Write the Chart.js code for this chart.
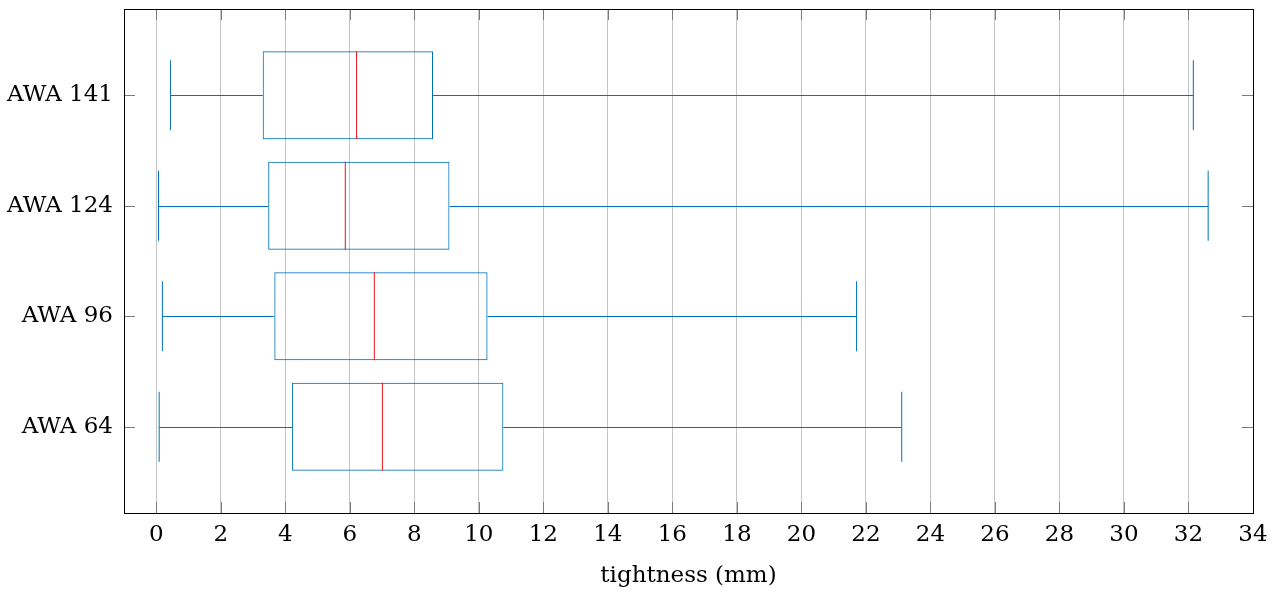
<!DOCTYPE html>
<html>
<head>
<meta charset="utf-8">
<script src="https://cdn.jsdelivr.net/npm/chart.js@4"></script>
<style>
    html, body { margin: 0; padding: 0; background: #fff; }
    #wrap { width: 1285px; height: 592px; }
</style>
</head>
<body>
<div id="wrap"><canvas id="box-chart"></canvas></div>
<script>

// one entry per group, bottom to top
const categories = ["AWA 64", "AWA 96", "AWA 124", "AWA 141"];
const positions = [1, 2, 3, 4];
const whisker_low = [0.09, 0.19, 0.07, 0.44];
const q1_values = [4.21, 3.66, 3.47, 3.30];
const median_values = [7.01, 6.76, 5.86, 6.21];
const q3_values = [10.76, 10.27, 9.09, 8.58];
const whisker_high = [23.11, 21.71, 32.61, 32.15];

const x_ticks = [0, 2, 4, 6, 8, 10, 12, 14, 16, 18, 20, 22, 24, 26, 28, 30, 32, 34];

const box_colour = "#0072BD";
const median_colour = "#E8141C";
const font_family = "'DejaVu Serif', serif";

const box_half = 0.398;   // half box height, y units
const cap_half = 0.317;   // half whisker cap height, y units

let box_data = [];
for (let i = 0; i < categories.length; i++) {
    box_data.push({x: [q1_values[i], q3_values[i]], y: positions[i]});
}

// whiskers, caps, medians, inner ticks and frame
const boxExtras = {
    id: "boxExtras",
    afterDatasetsDraw(chart) {
        const ctx = chart.ctx;
        const xs = chart.scales.x;
        const ys = chart.scales.y;
        const area = chart.chartArea;

        ctx.save();
        ctx.lineWidth = 1;

        for (let i = 0; i < categories.length; i++) {
            const yc = Math.round(ys.getPixelForValue(positions[i])) + 0.5;
            const xl = xs.getPixelForValue(whisker_low[i]);
            const xq1 = xs.getPixelForValue(q1_values[i]);
            const xq3 = xs.getPixelForValue(q3_values[i]);
            const xh = xs.getPixelForValue(whisker_high[i]);
            const cap_top = ys.getPixelForValue(positions[i] + cap_half);
            const cap_bot = ys.getPixelForValue(positions[i] - cap_half);

            ctx.strokeStyle = box_colour;
            ctx.beginPath();
            ctx.moveTo(xl, yc); ctx.lineTo(xq1, yc);
            ctx.moveTo(xq3, yc); ctx.lineTo(xh, yc);
            ctx.moveTo(xl, cap_top); ctx.lineTo(xl, cap_bot);
            ctx.moveTo(xh, cap_top); ctx.lineTo(xh, cap_bot);
            ctx.stroke();

            const xm = xs.getPixelForValue(median_values[i]);
            ctx.strokeStyle = median_colour;
            ctx.beginPath();
            ctx.moveTo(xm, ys.getPixelForValue(positions[i] + box_half));
            ctx.lineTo(xm, ys.getPixelForValue(positions[i] - box_half));
            ctx.stroke();
        }

        // tick marks drawn inwards like pgfplots
        ctx.strokeStyle = "#7a7a7a";
        ctx.beginPath();
        x_ticks.forEach(t => {
            const px = Math.round(xs.getPixelForValue(t)) + 0.5;
            ctx.moveTo(px, area.bottom); ctx.lineTo(px, area.bottom - 11);
            ctx.moveTo(px, area.top); ctx.lineTo(px, area.top + 11);
        });
        positions.forEach(p => {
            const py = Math.round(ys.getPixelForValue(p)) + 0.5;
            ctx.moveTo(area.left, py); ctx.lineTo(area.left + 11, py);
            ctx.moveTo(area.right, py); ctx.lineTo(area.right - 11, py);
        });
        ctx.stroke();

        ctx.strokeStyle = "#000";
        ctx.strokeRect(area.left + 0.5, area.top + 0.5, area.right - area.left, area.bottom - area.top);
        ctx.restore();
    }
};

const config_box = {
    type: "bar",
    data: {
        datasets: [{
            label: "box",
            data: box_data,
            backgroundColor: "rgba(0,0,0,0)",
            borderColor: box_colour,
            borderWidth: 1,
            borderSkipped: false,
            barPercentage: 0.796,
            categoryPercentage: 1
        }]
    },
    options: {
        indexAxis: "y",
        responsive: true,
        maintainAspectRatio: false,
        animation: false,
        layout: {
            padding: {top: 9, right: 32, bottom: 0, left: 0}
        },
        plugins: {
            legend: {display: false},
            tooltip: {enabled: false}
        },
        scales: {
            x: {
                type: "linear",
                min: -1,
                max: 34,
                afterBuildTicks: (axis) => { axis.ticks = x_ticks.map(v => ({value: v})); },
                afterFit: (axis) => { axis.height = 79; axis.paddingLeft = 0; axis.paddingRight = 0; },
                grid: {
                    color: "#c4c4c4",
                    lineWidth: 1,
                    drawTicks: false
                },
                border: {display: false},
                ticks: {
                    color: "#000",
                    padding: 8,
                    maxRotation: 0,
                    autoSkip: false,
                    font: {family: font_family, size: 23}
                },
                title: {
                    display: true,
                    text: "tightness (mm)",
                    color: "#000",
                    padding: {top: 0, bottom: 2},
                    font: {family: font_family, size: 23}
                }
            },
            y: {
                type: "linear",
                offset: false,
                min: 0.22,
                max: 4.78,
                afterBuildTicks: (axis) => { axis.ticks = positions.map(v => ({value: v})); },
                afterFit: (axis) => { axis.width = 124; axis.paddingTop = 0; axis.paddingBottom = 0; },
                grid: {display: false, drawTicks: false, offset: false},
                border: {display: false},
                ticks: {
                    color: "#000",
                    padding: 11,
                    font: {family: font_family, size: 23},
                    callback: (value) => categories[positions.indexOf(value)]
                }
            }
        }
    },
    plugins: [boxExtras]
};

const ctx_box = document.getElementById("box-chart").getContext("2d");
const box_chart = new Chart(ctx_box, config_box);

</script>
</body>
</html>
